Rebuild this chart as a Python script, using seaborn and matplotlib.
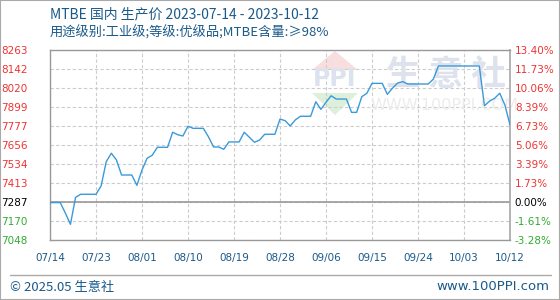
import numpy as np
import pandas as pd
import matplotlib
matplotlib.use("Agg")
import matplotlib.pyplot as plt
from matplotlib.patches import Polygon, Rectangle
from matplotlib.lines import Line2D
import seaborn as sns

# ---------------- data ----------------
start_date = "2023-07-14"
prices = [
    7287, 7287, 7287, 7220, 7148, 7320, 7340, 7340, 7340, 7340,
    7393, 7548, 7602, 7559, 7463, 7463, 7463, 7397, 7495, 7570,
    7589, 7640, 7640, 7640, 7736, 7720, 7712, 7774, 7761, 7761,
    7761, 7707, 7642, 7642, 7627, 7674, 7674, 7674, 7736, 7704,
    7672, 7686, 7723, 7723, 7723, 7820, 7810, 7776, 7815, 7838,
    7838, 7838, 7931, 7882, 7927, 7969, 7948, 7948, 7948, 7863,
    7863, 7963, 7985, 8048, 8048, 8048, 7978, 8017, 8050, 8059,
    8044, 8044, 8044, 8044, 8044, 8075, 8159, 8159, 8159, 8159,
    8159, 8159, 8159, 8159, 8159, 7905, 7935, 7953, 7985, 7910,
    7782,
]
x_labels = ["07/14", "07/23", "08/01", "08/10", "08/19", "08/28",
            "09/06", "09/15", "09/24", "10/03", "10/12"]
y_labels_left = ["7048", "7170", "7287", "7413", "7534", "7656",
                 "7777", "7899", "8020", "8142", "8263"]
y_labels_right = ["-3.28%", "-1.61%", "0.00%", "1.73%", "3.39%", "5.06%",
                  "6.73%", "8.39%", "10.06%", "11.73%", "13.40%"]
base_index = 2
title_line1 = "MTBE 国内 生产价 2023-07-14 - 2023-10-12"
title_line2 = "用途级别:工业级;等级:优级品;MTBE含量:≥98%"
footer_left = "© 2025.05 生意社"
footer_right = "www.100PPI.com"

# ---------------- style ----------------
sns.set_theme(style="white")
plt.rcParams["font.family"] = ["DejaVu Sans"]
CJK = ["Noto Sans CJK SC", "DejaVu Sans"]
TXT = "#1a5a8a"
RED = "#ee3333"
GREEN = "#33aa33"

W, H = 560, 300
fig = plt.figure(figsize=(5.6, 3.0), dpi=100)
fig.patch.set_facecolor("white")

L, R, T, B = 50, 510, 49.7, 240
ax = fig.add_axes([L / W, 1 - B / H, (R - L) / W, (B - T) / H])
ax.set_facecolor("white")

df = pd.DataFrame({
    "date": pd.date_range(start_date, periods=len(prices), freq="D"),
    "price": prices,
})

# watermark (drawn beneath the line)
def ap(px, py):
    return ((px - L) / (R - L), (B - py) / (B - T))

ax.add_patch(Polygon([ap(312, 70), ap(358, 70), ap(335, 51)], closed=True,
                     transform=ax.transAxes, facecolor="#f8dede", edgecolor="none", zorder=0.5))
ax.add_patch(Polygon([ap(312, 93), ap(358, 93), ap(335, 115)], closed=True,
                     transform=ax.transAxes, facecolor="#dcf0dc", edgecolor="none", zorder=0.5))
ax.text(*ap(335, 79), "PPI", transform=ax.transAxes, ha="center", va="center",
        fontsize=17, fontweight="bold", color="#dde3ee", zorder=0.6)
ax.text(*ap(446, 74), "生 意 社", transform=ax.transAxes, ha="center", va="center",
        fontsize=25, fontweight="bold", color="#dde2ec", family=CJK, zorder=0.6)
ax.text(*ap(444, 106), "WWW.100PPI.COM", transform=ax.transAxes, ha="center", va="center",
        fontsize=11.5, color="#ececec", zorder=0.6)

sns.lineplot(data=df, x="date", y="price", ax=ax, color="#3a9ad9", linewidth=1.0, zorder=3)

# axes limits & ticks
x_ticks = pd.date_range(df["date"].iloc[0], df["date"].iloc[-1], freq="9D")
ax.set_xlim(df["date"].iloc[0], df["date"].iloc[-1])
y_min, y_max = float(y_labels_left[0]), float(y_labels_left[-1])
y_ticks = np.linspace(y_min, y_max, len(y_labels_left))
ax.set_ylim(y_min, y_max)
ax.set_xticks(x_ticks)
ax.set_xticklabels(x_labels)
ax.set_yticks(y_ticks)
ax.set_yticklabels(y_labels_left)
ax.set_xlabel("")
ax.set_ylabel("")

ax.tick_params(axis="x", length=0, pad=9, labelsize=7.5, labelcolor=TXT)
ax.tick_params(axis="y", length=0, pad=16, labelsize=7.5)

def lab_color(i):
    if i < base_index:
        return GREEN
    if i == base_index:
        return "black"
    return RED

for i, t in enumerate(ax.get_yticklabels()):
    t.set_color(lab_color(i))

ax.grid(True, linestyle=(0, (3, 2)), color="#cccccc", linewidth=0.8)
ax.axhline(y_ticks[base_index], color="#999999", linewidth=1.2, zorder=2)

for s in ["left", "bottom", "top"]:
    ax.spines[s].set_color("#999999")
    ax.spines[s].set_linewidth(1.0)
ax.spines["right"].set_color("#aaaaaa")
ax.spines["right"].set_linestyle((0, (3, 1)))

ax2 = ax.twinx()
ax2.set_ylim(y_min, y_max)
ax2.set_yticks(y_ticks)
ax2.set_yticklabels(y_labels_right)
ax2.tick_params(axis="y", length=0, pad=3.5, labelsize=7.5)
for i, t in enumerate(ax2.get_yticklabels()):
    t.set_color(lab_color(i))
ax2.grid(False)
for s in ax2.spines.values():
    s.set_visible(False)

# titles
fig.text(50 / W, 1 - 14 / H, title_line1, fontsize=10, color=TXT, va="center", family=CJK)
fig.text(50 / W, 1 - 33 / H, title_line2, fontsize=9.5, color=TXT, va="center", family=CJK)

# footer
fig.add_artist(Line2D([10 / W, 551 / W], [1 - 275 / H] * 2, color="#aaaaaa", linewidth=1.0))
fig.text(10 / W, 1 - 287 / H, footer_left, fontsize=9.5, color=TXT, va="center", family=CJK)
fig.text(549 / W, 1 - 287 / H, footer_right, fontsize=9.5, color=TXT, va="center", ha="right")

# outer border
fig.patches.append(Rectangle((0, 0), 1, 1, transform=fig.transFigure, fill=False,
                             edgecolor="#aaaaaa", linewidth=1.5))

fig.savefig("out.png", dpi=100)
